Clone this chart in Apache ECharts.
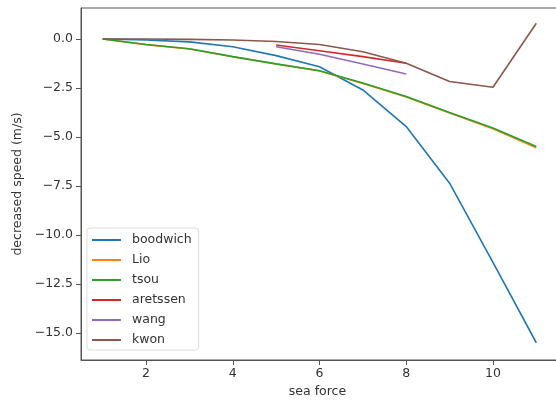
<!DOCTYPE html>
<html>
<head>
<meta charset="utf-8">
<script src="https://cdn.jsdelivr.net/npm/echarts@6/dist/echarts.min.js"></script>
<style>html,body{margin:0;padding:0;background:#fff;overflow:hidden;width:556px;height:405px;}#c{width:600px;height:405px;}</style>
</head>
<body>
<div id="c"></div>
<script>
var seaForce = [1,2,3,4,5,6,7,8,9,10,11];
var seaForceShort = [5,6,7,8];
var boodwich = [0,-0.05,-0.15,-0.4,-0.85,-1.42,-2.6,-4.47,-7.36,-11.4,-15.5];
var lio      = [0,-0.29,-0.51,-0.91,-1.28,-1.63,-2.27,-2.96,-3.78,-4.58,-5.55];
var tsou     = [0,-0.28,-0.5,-0.9,-1.27,-1.62,-2.25,-2.94,-3.75,-4.54,-5.49];
var aretssen = [-0.31,-0.6,-0.9,-1.24];
var wang     = [-0.4,-0.78,-1.28,-1.79];
var kwon     = [0,0,-0.02,-0.05,-0.13,-0.28,-0.65,-1.24,-2.17,-2.46,0.8];
var xTicks = [2,4,6,8,10];
var yTicks = [0,-2.5,-5,-7.5,-10,-12.5,-15];

function pairs(xs, ys){ return ys.map(function(v,i){ return [xs[i], v]; }); }
var FONT = 'DejaVu Sans';
var series = [
  {name:'boodwich', color:'#1f77b4', d:pairs(seaForce, boodwich)},
  {name:'Lio', color:'#ff7f0e', d:pairs(seaForce, lio)},
  {name:'tsou', color:'#2ca02c', d:pairs(seaForce, tsou)},
  {name:'aretssen', color:'#d62728', d:pairs(seaForceShort, aretssen)},
  {name:'wang', color:'#9467bd', d:pairs(seaForceShort, wang)},
  {name:'kwon', color:'#8c564b', d:pairs(seaForce, kwon)}
].map(function(s){
  return {type:'line', name:s.name, data:s.d, showSymbol:false, symbol:'none',
    color:s.color, lineStyle:{width:1.6, color:s.color}, animation:false};
});

var chart = echarts.init(document.getElementById('c'));
chart.setOption({
  animation:false,
  backgroundColor:'#fff',
  grid:{left:81, top:8, width:477, bottom:45, show:true, borderColor:'#555', borderWidth:1},
  xAxis:{type:'value', min:0.5, max:11.5,
    axisLine:{show:true, onZero:false, lineStyle:{color:'#555', width:1}},
    axisTick:{show:true, length:5, inside:false, customValues:xTicks, lineStyle:{color:'#555'}},
    axisLabel:{customValues:xTicks, color:'#333', fontFamily:FONT, fontSize:12.5, margin:7},
    splitLine:{show:false},
    name:'sea force', nameLocation:'middle', nameGap:23,
    nameTextStyle:{color:'#333', fontFamily:FONT, fontSize:12.5, padding:[0,4,0,0]}
  },
  yAxis:{type:'value', min:-16.38, max:1.58,
    axisLine:{show:true, onZero:false, lineStyle:{color:'#555', width:1}},
    axisTick:{show:true, length:5, customValues:yTicks, lineStyle:{color:'#555'}},
    axisLabel:{customValues:yTicks, color:'#333', fontFamily:FONT, fontSize:12.5, margin:8,
      formatter:function(v){ return (v<0?'\u2212':'') + Math.abs(v).toFixed(1); }},
    splitLine:{show:false},
    name:'decreased speed (m/s)', nameLocation:'middle', nameGap:52, nameRotate:90,
    nameTextStyle:{color:'#333', fontFamily:FONT, fontSize:12.5}
  },
  legend:{orient:'vertical', left:87, top:228, itemWidth:29, itemHeight:2, itemGap:6,
    icon:'rect', padding:[5,7,3,5], borderColor:'#ddd', borderWidth:1, borderRadius:3,
    backgroundColor:'rgba(255,255,255,0.85)',
    textStyle:{color:'#333', fontFamily:FONT, fontSize:12.5, lineHeight:14, padding:[0,0,0,6]},
    data:['boodwich','Lio','tsou','aretssen','wang','kwon']
  },
  series:series
});
</script>
</body>
</html>
